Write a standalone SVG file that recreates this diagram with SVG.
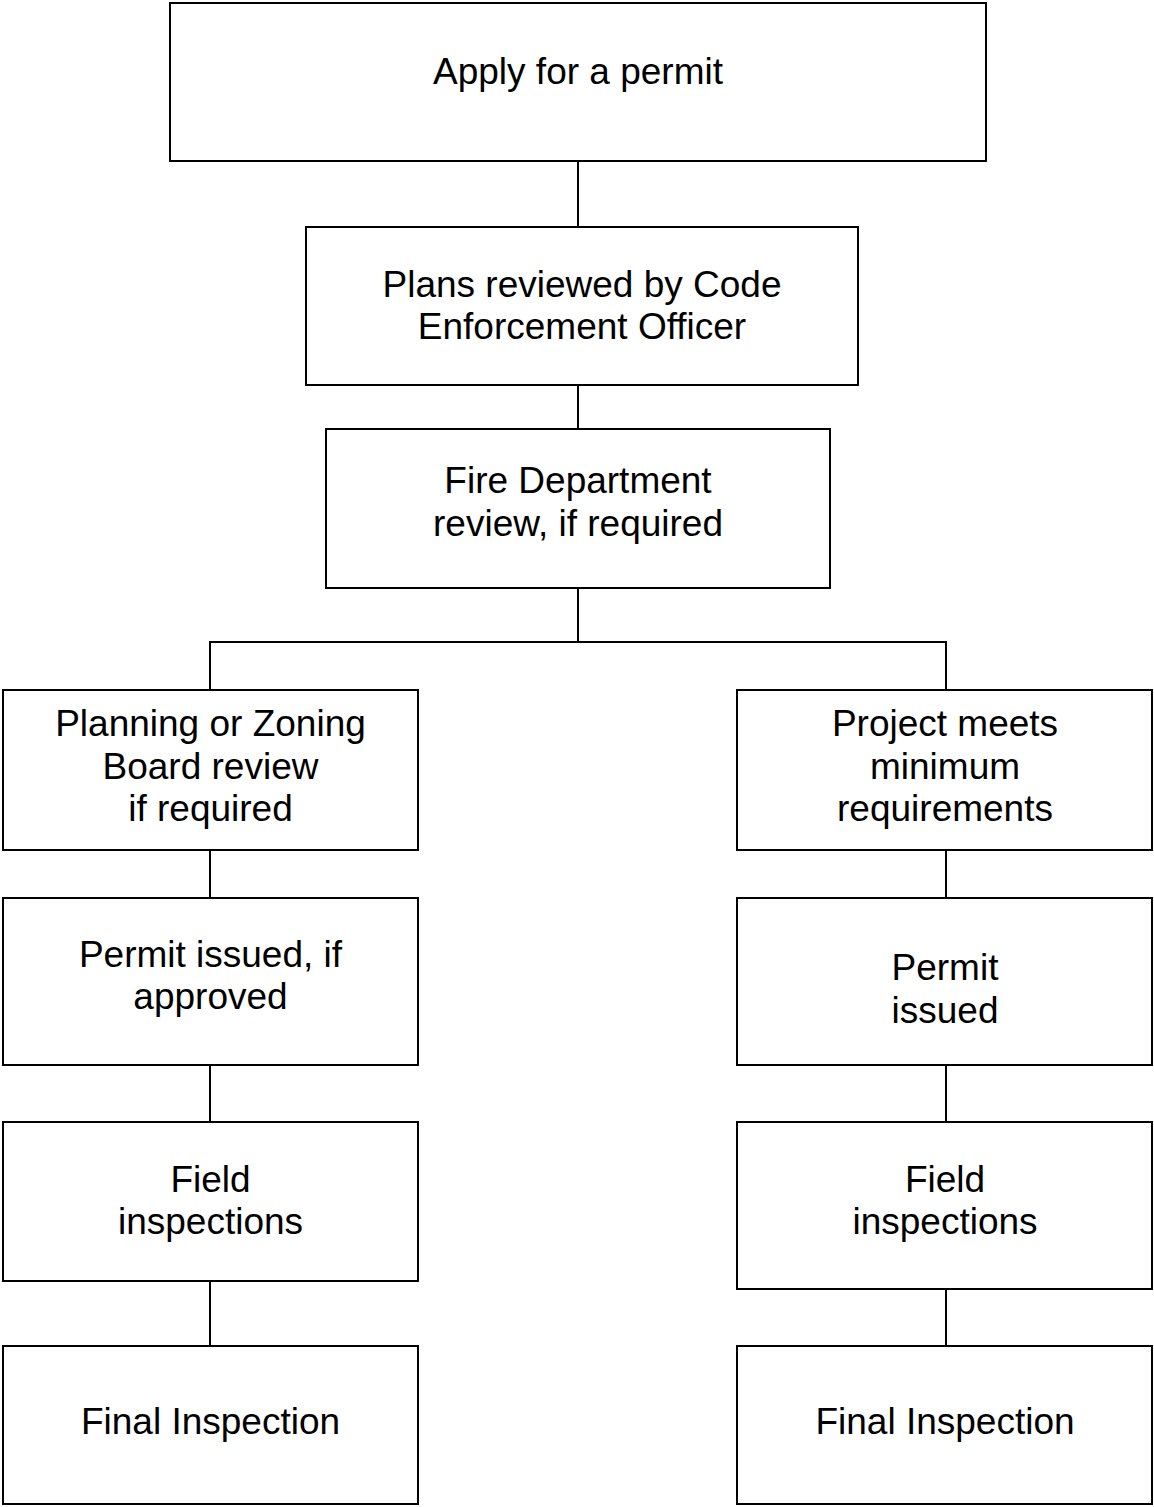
<svg xmlns="http://www.w3.org/2000/svg" width="1154" height="1507" viewBox="0 0 1154 1507">
<style>
.box{fill:#fff;stroke:#000;stroke-width:2}
.lbl{font-family:"Liberation Sans",Arial,sans-serif;font-size:37px;fill:#000;text-anchor:middle}
.con{stroke:#000;stroke-width:2;fill:none}
</style>
<rect width="1154" height="1507" fill="#fff"/>
<g id="connectors">
<path class="con" d="M578 161V227"/>
<path class="con" d="M578 385V429"/>
<path class="con" d="M578 588V642M210 690V642H946V690"/>
<path class="con" d="M210 850V898M210 1065V1122M210 1281V1346"/>
<path class="con" d="M946 850V898M946 1065V1122M946 1289V1346"/>
</g>
<g id="n1"><rect class="box" x="170" y="3" width="816" height="158"/><text class="lbl" x="578" y="84">Apply for a permit</text></g>
<g id="n2"><rect class="box" x="306" y="227" width="552" height="158"/><text class="lbl" x="582" y="297">Plans reviewed by Code</text><text class="lbl" x="582" y="339">Enforcement Officer</text></g>
<g id="n3"><rect class="box" x="326" y="429" width="504" height="159"/><text class="lbl" x="578" y="493">Fire Department</text><text class="lbl" x="578" y="536">review, if required</text></g>
<g id="n4"><rect class="box" x="3" y="690" width="415" height="160"/><text class="lbl" x="210.5" y="736">Planning or Zoning</text><text class="lbl" x="210.5" y="778.5">Board review</text><text class="lbl" x="210.5" y="821">if required</text></g>
<g id="n5"><rect class="box" x="737" y="690" width="415" height="160"/><text class="lbl" x="945" y="736">Project meets</text><text class="lbl" x="945" y="778.5">minimum</text><text class="lbl" x="945" y="821">requirements</text></g>
<g id="n6"><rect class="box" x="3" y="898" width="415" height="167"/><text class="lbl" x="210.5" y="967">Permit issued, if</text><text class="lbl" x="210.5" y="1009">approved</text></g>
<g id="n7"><rect class="box" x="737" y="898" width="415" height="167"/><text class="lbl" x="945" y="980">Permit</text><text class="lbl" x="945" y="1023">issued</text></g>
<g id="n8"><rect class="box" x="3" y="1122" width="415" height="159"/><text class="lbl" x="210.5" y="1192">Field</text><text class="lbl" x="210.5" y="1234">inspections</text></g>
<g id="n9"><rect class="box" x="737" y="1122" width="415" height="167"/><text class="lbl" x="945" y="1192">Field</text><text class="lbl" x="945" y="1234">inspections</text></g>
<g id="n10"><rect class="box" x="3" y="1346" width="415" height="158"/><text class="lbl" x="210.5" y="1434">Final Inspection</text></g>
<g id="n11"><rect class="box" x="737" y="1346" width="415" height="158"/><text class="lbl" x="945" y="1434">Final Inspection</text></g>
</svg>
